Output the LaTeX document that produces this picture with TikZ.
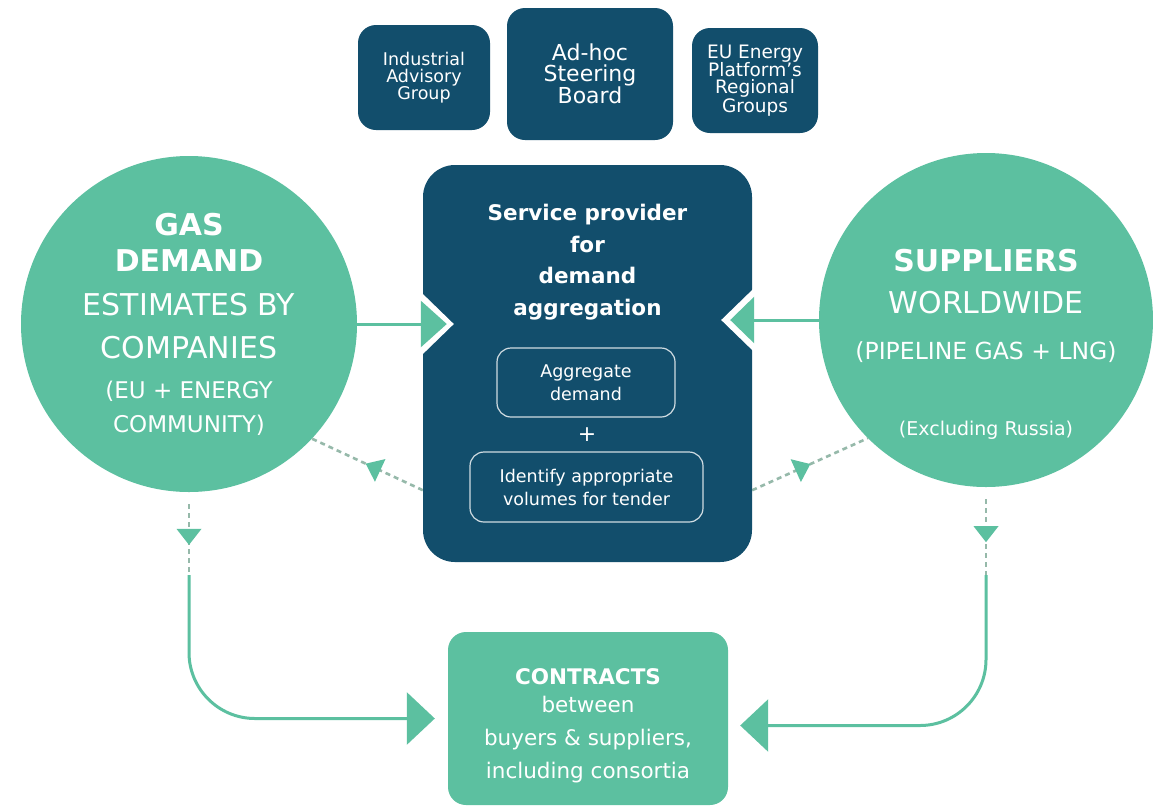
\documentclass[tikz,border=0pt]{standalone}
\usepackage{fontspec}
\setmainfont{DejaVu Sans}
\usetikzlibrary{arrows.meta,calc,decorations.markings}
\definecolor{eugreen}{RGB}{92,192,160}
\definecolor{eublue}{RGB}{18,78,108}
\definecolor{eudot}{RGB}{150,185,170}
\pgfdeclarelayer{background}
\pgfdeclarelayer{foreground}
\pgfsetlayers{background,main,foreground}
\newcommand{\fsz}[2]{\fontsize{#1pt}{#2pt}\selectfont}

\begin{document}
\begin{tikzpicture}[x=1pt,y=-1pt,
  darkbox/.style={fill=eublue,text=white,rounded corners=18pt,align=center,inner sep=0pt},
  subbox/.style={draw=white!80!eublue,line width=1.2pt,rounded corners=14pt,text=white,align=center,inner sep=0pt},
  bigcirc/.style={circle,fill=eugreen,inner sep=0pt},
  circtext/.style={text=white,align=center,inner sep=0pt},
  flow/.style={draw=eugreen,line width=3pt},
  dotflow/.style={draw=eudot,line width=2.6pt,dash pattern=on 5pt off 4pt},
  midtip/.style={postaction={decorate},decoration={markings,mark=at position #1 with {\fill[eugreen] (8pt,0pt) -- (-8pt,12.5pt) -- (-8pt,-12.5pt) -- cycle;}}}]
\useasboundingbox (0,0) rectangle (1153,807);

% top row
\node[darkbox,minimum width=132pt,minimum height=105pt,font=\fsz{17.5}{17}] (iag) at (424,77.5) {Industrial\\Advisory\\Group};
\node[darkbox,minimum width=166pt,minimum height=132pt,font=\fsz{22}{21}] (asb) at (590,74) {Ad-hoc\\Steering\\Board};
\node[darkbox,minimum width=126pt,minimum height=105pt,font=\fsz{18.5}{17}] (eer) at (755,80.5) {EU Energy\\Platform's\\Regional\\Groups};

% service provider
\node[darkbox,rounded corners=32pt,minimum width=329pt,minimum height=397pt] (sp) at (587.5,363.5) {};
\node[circtext,font=\bfseries\fsz{21.5}{31.7}] (sptitle) at (587.5,262) {Service provider\\for\\demand\\aggregation};
\node[subbox,minimum width=178pt,minimum height=69pt,font=\fsz{17.5}{23}] (agg) at (586,382.5) {Aggregate\\demand};
\node[circtext,font=\fsz{22}{22}] (plus) at (587,435) {+};
\node[subbox,minimum width=233pt,minimum height=70pt,font=\fsz{17.5}{23}] (idv) at (586.5,487) {Identify appropriate\\volumes for tender};

% circles
\node[bigcirc,minimum size=336pt] (gas) at (189,324) {};
\node[circtext,font=\fsz{30}{36}] (gastxt) at (gas.center) {\textbf{GAS}\\\textbf{DEMAND}\\[8pt]ESTIMATES BY\\[7pt]COMPANIES\\[4pt]{\fsz{23}{36}(EU + ENERGY}\\[-2pt]{\fsz{23}{36}COMMUNITY)}};
\node[bigcirc,minimum size=334pt] (sup) at (986,320) {};
\node[circtext,font=\fsz{30}{36}] (suptxt) at ($(sup.center)+(0,24.5)$) {\textbf{SUPPLIERS}\\[6pt]WORLDWIDE\\[9.5pt]{\fsz{23.5}{36}(PIPELINE GAS + LNG)}\\[40.5pt]{\fsz{19}{36}(Excluding Russia)}};

% contracts
\node[fill=eugreen,rounded corners=18pt,minimum width=280pt,minimum height=173pt,inner sep=0pt] (con) at (588,718.5) {};
\node[circtext,font=\fsz{21.5}{33}] (contxt) at ($(con.center)+(0,7)$) {\textbf{CONTRACTS}\\[-5pt]between\\buyers \& suppliers,\\including consortia};

\coordinate (nl) at (sp.west |- gas.east);
\coordinate (nr) at (sp.east |- sup.west);
\coordinate (lj) at ($(gas.south)+(0,83)$);
\coordinate (rj) at ($(sup.south)+(0,88)$);

\begin{pgfonlayer}{foreground}
\fill[white] ($(nl)+(-3,-33)$) -- ($(nl)+(31,0)$) -- ($(nl)+(-3,33)$) -- cycle; %notch in
\fill[white] ($(nr)+(3,-33)$) -- ($(nr)+(-31,0)$) -- ($(nr)+(3,33)$) -- cycle; %notch out
\draw[flow,-{Triangle[length=26pt,width=46pt]}] (gas.east) -- ($(nl)+(24,0)$);
\draw[flow,-{Triangle[length=24pt,width=46pt]}] (sup.west) -- ($(nr)+(-22,0)$);
\end{pgfonlayer}

\begin{pgfonlayer}{background}
\fill[white] (0,0) rectangle (1153,807);
\draw[dotflow,midtip=0.45] ($(sp.south west)+(0,-72)$) -- (gas.-43); %feedback left
\draw[dotflow,midtip=0.44] ($(sp.south east)+(0,-72)$) -- (sup.225); %feedback right
\draw[dotflow,midtip=0.46] ($(gas.south)+(0,12)$) -- (lj);
\draw[dotflow,midtip=0.46] ($(sup.south)+(0,12)$) -- (rj);
\draw[flow,rounded corners=66pt,-{Triangle[length=28pt,width=52pt]},shorten >=13pt] (lj) |- (con.west);
\draw[flow,rounded corners=66pt,-{Triangle[length=28pt,width=52pt]},shorten >=12pt] (rj) |- ([yshift=-7pt]con.east);
\end{pgfonlayer}
\end{tikzpicture}
\end{document}
